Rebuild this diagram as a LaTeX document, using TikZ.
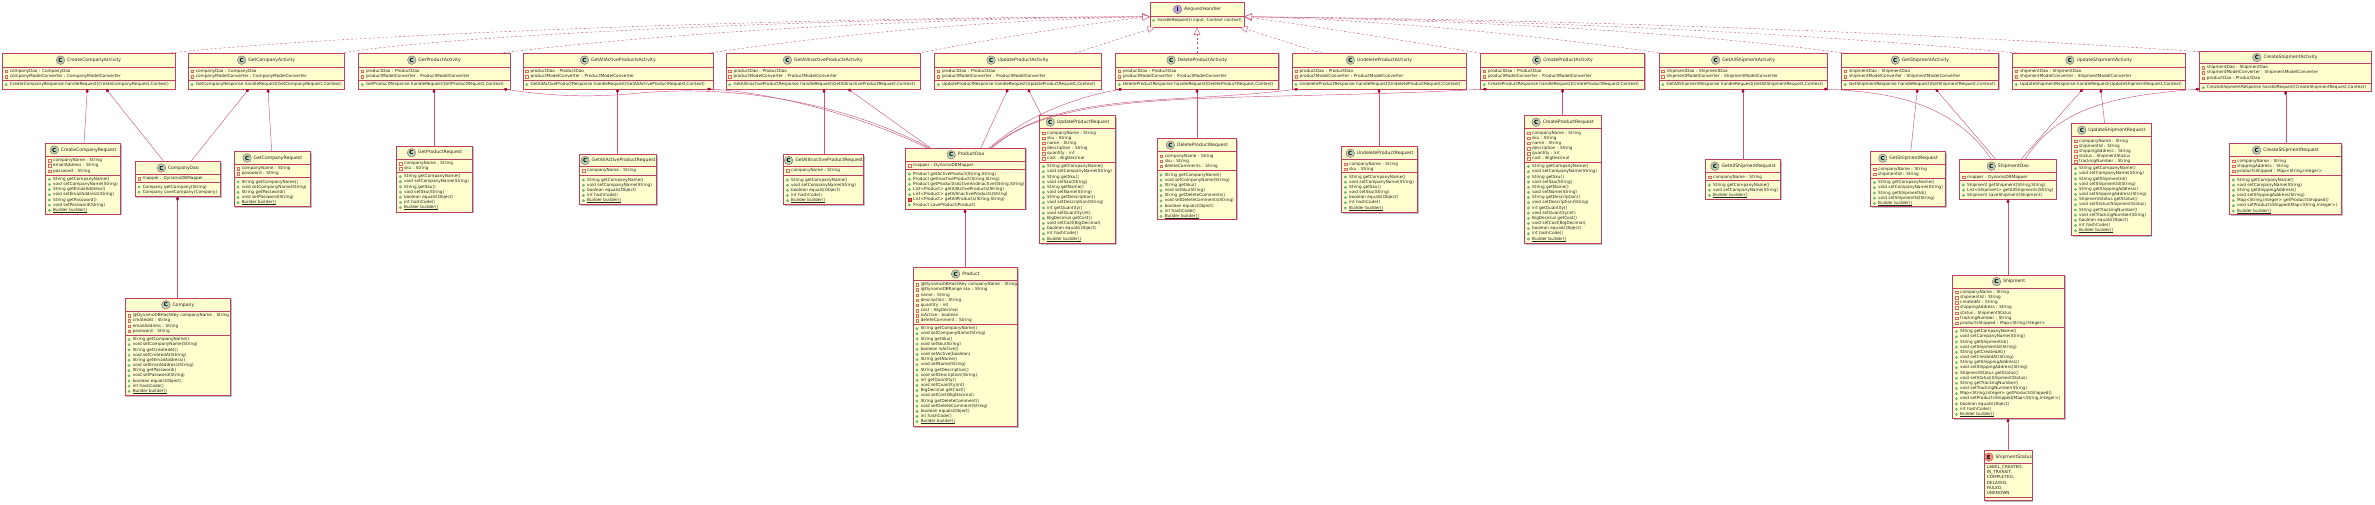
\documentclass[tikz,border=0pt]{standalone}
\usepackage{fontspec}
\setmainfont{DejaVu Sans}
\usetikzlibrary{positioning,shadows,arrows.meta}

\definecolor{umlline}{HTML}{A80036}
\definecolor{umlfill}{HTML}{FEFECE}
\definecolor{classgreen}{HTML}{ADD1B2}
\definecolor{ifacepurple}{HTML}{B4A7E5}
\definecolor{enumred}{HTML}{EB937F}
\definecolor{privline}{HTML}{C82930}
\definecolor{privfill}{HTML}{F24D5C}
\definecolor{publine}{HTML}{038048}
\definecolor{pubfill}{HTML}{84BE84}
\newcommand{\bb}{\leavevmode\setbox0\hbox{Builder builder()}\rlap{\rule[-.6pt]{\wd0}{.2pt}}\box0}

\tikzset{
  classnode/.style={draw=umlline!75!white,fill=umlfill,line width=.55pt,inner sep=0,outer sep=0,drop shadow={shadow xshift=1pt,shadow yshift=-1pt,fill=black,opacity=.25}},
  classrule/.style={draw=umlline!75!white,line width=.4pt},
  classtitle/.style={inner sep=0,text=black!85,font=\fontsize{4.56}{5.4}\selectfont,text height=3.4pt,text depth=1pt},
  classicon/.style={draw=umlline!80!white,line width=.3pt,circle,inner sep=0,minimum size=8.6pt,font=\fontsize{5.6}{6}\selectfont\bfseries},
  iconC/.style={fill=classgreen},
  iconI/.style={fill=ifacepurple},
  iconE/.style={fill=enumred},
  rowtext/.style={anchor=west,inner sep=0,text=black!85,font=\fontsize{4.2}{5.17}\selectfont,text height=3.1pt,text depth=.8pt},
  enumtext/.style={anchor=north west,align=left,inner sep=0,text=black!85,font=\fontsize{4.2}{5.17}\selectfont},
  privattr/.style={draw=privline!70!white,line width=.25pt,inner sep=0,minimum size=2.5pt},
  privmeth/.style={draw=privline,fill=privfill,line width=.25pt,inner sep=0,minimum size=2.5pt},
  pubmeth/.style={circle,draw=publine!70!white,fill=pubfill,line width=.2pt,inner sep=0,minimum size=2.6pt},
  absmeth/.style={circle,draw=publine,line width=.25pt,inner sep=0,minimum size=2.6pt},
  realize/.style={draw=umlline!70!white,line width=.4pt,dash pattern=on 2.2pt off 2.2pt,-{Triangle[open,length=7.5pt,width=6.5pt,fill=white]}},
  compos/.style={draw=umlline!65!white,line width=.45pt,{Diamond[length=4.2pt,width=3pt,color=umlline,fill=umlline]}-},
}

% box with its icon and title: [letter]{name}{x1}{y1}{x2}{y2}{rule 1}{rule 2}{title}
\newcommand{\classbox}[9][C]{
  \pgfmathsetmacro\boxw{#5-#3}
  \pgfmathsetmacro\boxh{#6-#4}
  \pgfmathsetmacro\boxx{(#3+#5)/2}
  \pgfmathsetmacro\boxy{(#4+#6)/2}
  \pgfmathsetmacro\titlex{\boxx+5.4}
  \pgfmathsetmacro\titley{(#4+#7)/2}
  \def\boxleft{#3}
  \node[classnode,minimum width=\boxw pt,minimum height=\boxh pt] (#2) at (\boxx,\boxy) {};
  \node[classtitle] (#2T) at (\titlex,\titley) {#9};
  \node[classicon,icon#1,left=2pt of #2T] (#2C) {#1};
  \draw[classrule] (#2.west |- 0,#7) -- (#2.east |- 0,#7);
  \draw[classrule] (#2.west |- 0,#8) -- (#2.east |- 0,#8);
}
% one section of rows: {prefix}{marker}{y of rule above}{rows}
\newcommand{\rows}[4]{
  \foreach \rowlabel [count=\n] in {#4} {
    \pgfmathsetmacro\rowy{#3+4.3+5.17*(\n-1)}
    \pgfmathsetmacro\rowm{\boxleft+3.7}
    \pgfmathsetmacro\rowt{\boxleft+7.3}
    \node[#2] (#1m\n) at (\rowm,\rowy) {};
    \node[rowtext] (#1t\n) at (\rowt,\rowy) {\rowlabel};
  }
}

\begin{document}
\begin{tikzpicture}[x=1pt,y=-1pt]
\useasboundingbox (0,0) rectangle (2375,505);

% the interface
\classbox[I]{RequestHandler}{1150}{2.7}{1244.4}{27.3}{16}{16}{\itshape RequestHandler}
\rows{RHm}{absmeth}{16}{{handleRequest(I input, Context context)}}

% company classes
\classbox{CreateCompanyActivity}{2.3}{53.3}{175}{89}{67}{80.3}{CreateCompanyActivity}
\rows{CCAa}{privattr}{67}{companyDao : CompanyDao,companyModelConverter : CompanyModelConverter}
\rows{CCAm}{pubmeth}{80.3}{{CreateCompanyResponse handleRequest(CreateCompanyRequest,Context)}}
\classbox{GetCompanyActivity}{188.3}{53.3}{344.4}{89}{67}{80.3}{GetCompanyActivity}
\rows{GCAa}{privattr}{67}{companyDao : CompanyDao,companyModelConverter : CompanyModelConverter}
\rows{GCAm}{pubmeth}{80.3}{{GetCompanyResponse handleRequest(GetCompanyRequest,Context)}}
\classbox{CreateCompanyRequest}{45.7}{143.7}{120.7}{214}{156.3}{175}{CreateCompanyRequest}
\rows{CCRa}{privattr}{156.3}{companyName : String,emailAddress : String,password : String}
\rows{CCRm}{pubmeth}{175}{String getCompanyName(),void setCompanyName(String),String getEmailAddress(),void setEmailAddress(String),String getPassword(),void setPassword(String),\bb}
\classbox{GetCompanyRequest}{234.3}{151.7}{310.7}{206.7}{164.3}{177.7}{GetCompanyRequest}
\rows{GCRa}{privattr}{164.3}{companyName : String,password : String}
\rows{GCRm}{pubmeth}{177.7}{String getCompanyName(),void setCompanyName(String),String getPassword(),void setPassword(String),\bb}
\classbox{CompanyDao}{135.3}{161.7}{220.7}{196.7}{174.3}{182.7}{CompanyDao}
\rows{CDa}{privattr}{174.3}{mapper : DynamoDBMapper}
\rows{CDm}{pubmeth}{182.7}{Company getCompany(String),Company saveCompany(Company)}
\classbox{Company}{125.3}{298.3}{230.7}{395.7}{311.3}{335.3}{Company}
\rows{COa}{privattr}{311.3}{@DynamoDBHashKey companyName : String,createdAt : String,emailAddress : String,password : String}
\rows{COm}{pubmeth}{335.3}{String getCompanyName(),void setCompanyName(String),String getCreatedAt(),void setCreatedAt(String),String getEmailAddress(),void setEmailAddress(String),String getPassword(),void setPassword(String),boolean equals(Object),int hashCode(),\bb}

% product classes
\classbox{GetProductActivity}{358.5}{53.3}{510}{89}{67}{80.3}{GetProductActivity}
\rows{GPAa}{privattr}{67}{productDao : ProductDao,productModelConverter : ProductModelConverter}
\rows{GPAm}{pubmeth}{80.3}{{GetProductResponse handleRequest(GetProductRequest,Context)}}
\classbox{GetAllActiveProductsActivity}{523}{53.3}{713}{89}{67}{80.3}{GetAllActiveProductsActivity}
\rows{GAAa}{privattr}{67}{productDao : ProductDao,productModelConverter : ProductModelConverter}
\rows{GAAm}{pubmeth}{80.3}{{GetAllActiveProductResponse handleRequest(GetAllActiveProductRequest,Context)}}
\classbox{GetAllInactiveProductsActivity}{726}{53.3}{920}{89}{67}{80.3}{GetAllInactiveProductsActivity}
\rows{GAIa}{privattr}{67}{productDao : ProductDao,productModelConverter : ProductModelConverter}
\rows{GAIm}{pubmeth}{80.3}{{GetAllInactiveProductResponse handleRequest(GetAllInactiveProductRequest,Context)}}
\classbox{UpdateProductActivity}{934.5}{53.3}{1101}{89}{67}{80.3}{UpdateProductActivity}
\rows{UPAa}{privattr}{67}{productDao : ProductDao,productModelConverter : ProductModelConverter}
\rows{UPAm}{pubmeth}{80.3}{{UpdateProductResponse handleRequest(UpdateProductRequest,Context)}}
\classbox{DeleteProductActivity}{1115.5}{53.3}{1278.5}{89}{67}{80.3}{DeleteProductActivity}
\rows{DPAa}{privattr}{67}{productDao : ProductDao,productModelConverter : ProductModelConverter}
\rows{DPAm}{pubmeth}{80.3}{{DeleteProductResponse handleRequest(DeleteProductRequest,Context)}}
\classbox{UndeleteProductActivity}{1292.2}{53.3}{1466}{89}{67}{80.3}{UndeleteProductActivity}
\rows{NPAa}{privattr}{67}{productDao : ProductDao,productModelConverter : ProductModelConverter}
\rows{NPAm}{pubmeth}{80.3}{{UndeleteProductResponse handleRequest(UndeleteProductRequest,Context)}}
\classbox{CreateProductActivity}{1480.5}{53.3}{1644.7}{89}{67}{80.3}{CreateProductActivity}
\rows{RPAa}{privattr}{67}{productDao : ProductDao,productModelConverter : ProductModelConverter}
\rows{RPAm}{pubmeth}{80.3}{{CreateProductResponse handleRequest(CreateProductRequest,Context)}}

\classbox{GetProductRequest}{396.7}{146.3}{472.7}{212.5}{159.2}{172.3}{GetProductRequest}
\rows{GPRa}{privattr}{159.2}{companyName : String,sku : String}
\rows{GPRm}{pubmeth}{172.3}{String getCompanyName(),void setCompanyName(String),String getSku(),void setSku(String),boolean equals(Object),int hashCode(),\bb}
\classbox{GetAllActiveProductRequest}{579.7}{154.7}{656.7}{204.7}{166.3}{175.7}{GetAllActiveProductRequest}
\rows{GARa}{privattr}{166.3}{companyName : String}
\rows{GARm}{pubmeth}{175.7}{String getCompanyName(),void setCompanyName(String),boolean equals(Object),int hashCode(),\bb}
\classbox{GetAllInactiveProductRequest}{783.7}{154.7}{863.7}{204.7}{166.3}{175.7}{GetAllInactiveProductRequest}
\rows{GIRa}{privattr}{166.3}{companyName : String}
\rows{GIRm}{pubmeth}{175.7}{String getCompanyName(),void setCompanyName(String),boolean equals(Object),int hashCode(),\bb}
\classbox{ProductDao}{905.7}{148.3}{1025.7}{209.3}{161.3}{169.7}{ProductDao}
\rows{PDa}{privattr}{161.3}{mapper : DynamoDBMapper}
\rows{PDm}{pubmeth}{169.7}{{Product getActiveProduct(String,String)},{Product getInactiveProduct(String,String)},{Product getProductIsActiveAndInactive(String,String)},List<Product> getAllActiveProducts(String),List<Product> getAllInactiveProducts(String)}
\rows{PDp}{privmeth}{195.55}{{List<Product> getAllProducts(String,String)}}
\rows{PDs}{pubmeth}{200.72}{Product saveProduct(Product)}
\classbox{Product}{913.3}{267.7}{1017.7}{426.7}{280.3}{324.3}{Product}
\rows{PRa}{privattr}{280.3}{@DynamoDBHashKey companyName : String,@DynamoDBRange sku : String,name : String,description : String,quantity : int,cost : BigDecimal,isActive : boolean,deleteComment : String}
\rows{PRm}{pubmeth}{324.3}{String getCompanyName(),void setCompanyName(String),String getSku(),void setSku(String),boolean isActive(),void setActive(boolean),String getName(),void setName(String),String getDescription(),void setDescription(String),int getQuantity(),void setQuantity(int),BigDecimal getCost(),void setCost(BigDecimal),String getDeleteComment(),void setDeleteComment(String),boolean equals(Object),int hashCode(),\bb}
\classbox{UpdateProductRequest}{1039.7}{115.7}{1115.7}{243.7}{128.7}{162.3}{UpdateProductRequest}
\rows{UPRa}{privattr}{128.7}{companyName : String,sku : String,name : String,description : String,quantity : int,cost : BigDecimal}
\rows{UPRm}{pubmeth}{162.3}{String getCompanyName(),void setCompanyName(String),String getSku(),void setSku(String),String getName(),void setName(String),String getDescription(),void setDescription(String),int getQuantity(),void setQuantity(int),BigDecimal getCost(),void setCost(BigDecimal),boolean equals(Object),int hashCode(),\bb}
\classbox{DeleteProductRequest}{1157.3}{138.7}{1236.7}{219.3}{151.7}{170.7}{DeleteProductRequest}
\rows{DPRa}{privattr}{151.7}{companyName : String,sku : String,deleteComments : String}
\rows{DPRm}{pubmeth}{170.7}{String getCompanyName(),void setCompanyName(String),String getSku(),void setSku(String),String getDeleteComments(),void setDeleteComments(String),boolean equals(Object),int hashCode(),\bb}
\classbox{UndeleteProductRequest}{1341.7}{146.7}{1417.7}{212.7}{159.7}{172.7}{UndeleteProductRequest}
\rows{NPRa}{privattr}{159.7}{companyName : String,sku : String}
\rows{NPRm}{pubmeth}{172.7}{String getCompanyName(),void setCompanyName(String),String getSku(),void setSku(String),boolean equals(Object),int hashCode(),\bb}
\classbox{CreateProductRequest}{1524.7}{115.7}{1601}{243.7}{128.7}{162.3}{CreateProductRequest}
\rows{RPRa}{privattr}{128.7}{companyName : String,sku : String,name : String,description : String,quantity : int,cost : BigDecimal}
\rows{RPRm}{pubmeth}{162.3}{String getCompanyName(),void setCompanyName(String),String getSku(),void setSku(String),String getName(),void setName(String),String getDescription(),void setDescription(String),int getQuantity(),void setQuantity(int),BigDecimal getCost(),void setCost(BigDecimal),boolean equals(Object),int hashCode(),\bb}

% shipment classes
\classbox{GetAllShipmentActivity}{1659}{53.3}{1827.4}{89}{67}{80.3}{GetAllShipmentActivity}
\rows{ASAa}{privattr}{67}{shipmentDao : ShipmentDao,shipmentModelConverter : ShipmentModelConverter}
\rows{ASAm}{pubmeth}{80.3}{{GetAllShipmentResponse handleRequest(GetAllShipmentRequest,Context)}}
\classbox{GetShipmentActivity}{1841.5}{53.3}{1998.6}{89}{67}{80.3}{GetShipmentActivity}
\rows{GSAa}{privattr}{67}{shipmentDao : ShipmentDao,shipmentModelConverter : ShipmentModelConverter}
\rows{GSAm}{pubmeth}{80.3}{{GetShipmentResponse handleRequest(GetShipmentRequest,Context)}}
\classbox{UpdateShipmentActivity}{2012.6}{53.3}{2185.3}{89}{67}{80.3}{UpdateShipmentActivity}
\rows{USAa}{privattr}{67}{shipmentDao : ShipmentDao,shipmentModelConverter : ShipmentModelConverter}
\rows{USAm}{pubmeth}{80.3}{{UpdateShipmentResponse handleRequest(UpdateShipmentRequest,Context)}}
\classbox{CreateShipmentActivity}{2199.4}{51.7}{2370.9}{91}{63.3}{83.3}{CreateShipmentActivity}
\rows{RSAa}{privattr}{63.3}{shipmentDao : ShipmentDao,shipmentModelConverter : ShipmentModelConverter,productDao : ProductDao}
\rows{RSAm}{pubmeth}{83.3}{{CreateShipmentResponse handleRequest(CreateShipmentRequest,Context)}}

\classbox{GetAllShipmentRequest}{1705.7}{159.7}{1780.7}{199.3}{172.7}{180.7}{GetAllShipmentRequest}
\rows{ASRa}{privattr}{172.7}{companyName : String}
\rows{ASRm}{pubmeth}{180.7}{String getCompanyName(),void setCompanyName(String),\bb}
\classbox{GetShipmentRequest}{1870.7}{151.7}{1945.7}{206.7}{164.7}{178.3}{GetShipmentRequest}
\rows{GSRa}{privattr}{164.7}{companyName : String,shipmentId : String}
\rows{GSRm}{pubmeth}{178.3}{String getCompanyName(),void setCompanyName(String),String getShipmentId(),void setShipmentId(String),\bb}
\classbox{ShipmentDao}{1959.7}{159.7}{2056.3}{199.3}{172.7}{180.7}{ShipmentDao}
\rows{SDa}{privattr}{172.7}{mapper : DynamoDBMapper}
\rows{SDm}{pubmeth}{180.7}{{Shipment getShipment(String,String)},List<Shipment> getAllShipments(String),Shipment saveShipment(Shipment)}
\classbox{UpdateShipmentRequest}{2071.7}{123.7}{2151.3}{235.7}{136.7}{164.3}{UpdateShipmentRequest}
\rows{USRa}{privattr}{136.7}{companyName : String,shipmentId : String,shippingAddress : String,status : ShipmentStatus,trackingNumber : String}
\rows{USRm}{pubmeth}{164.3}{String getCompanyName(),void setCompanyName(String),String getShipmentId(),void setShipmentId(String),String getShippingAddress(),void setShippingAddress(String),ShipmentStatus getStatus(),void setStatus(ShipmentStatus),String getTrackingNumber(),void setTrackingNumber(String),boolean equals(Object),int hashCode(),\bb}
\classbox{CreateShipmentRequest}{2229.7}{143.7}{2341.7}{214.7}{156.7}{175.7}{CreateShipmentRequest}
\rows{RSRa}{privattr}{156.7}{companyName : String,shippingAddress : String,{productsShipped : Map<String,Integer>}}
\rows{RSRm}{pubmeth}{175.7}{String getCompanyName(),void setCompanyName(String),String getShippingAddress(),void setShippingAddress(String),{Map<String,Integer> getProductsShipped()},{void setProductsShipped(Map<String,Integer>)},\bb}
\classbox{Shipment}{1952.7}{275.3}{2064.7}{418.7}{288}{327.3}{Shipment}
\rows{SHa}{privattr}{288}{companyName : String,shipmentId : String,createdAt : String,shippingAddress : String,status : ShipmentStatus,trackingNumber : String,{productsShipped : Map<String,Integer>}}
\rows{SHm}{pubmeth}{327.3}{String getCompanyName(),void setCompanyName(String),String getShipmentId(),void setShipmentId(String),String getCreatedAt(),void setCreatedAt(String),String getShippingAddress(),void setShippingAddress(String),ShipmentStatus getStatus(),void setStatus(ShipmentStatus),String getTrackingNumber(),void setTrackingNumber(String),{Map<String,Integer> getProductsShipped()},{void setProductsShipped(Map<String,Integer>)},boolean equals(Object),int hashCode(),\bb}
\classbox[E]{ShipmentStatus}{1984.3}{450.7}{2032.3}{500.7}{463.3}{497.3}{ShipmentStatus}
\node[enumtext] (SSv) at (1986.7,465.2) {LABEL\_CREATED,\\IN\_TRANSIT,\\COMPLETED,\\DELAYED,\\FAILED,\\UNKNOWN};

% implements
\draw[realize] (CreateCompanyActivity.north -| 166.5,0) .. controls (330,35) and (800,17) .. ([yshift=-1.7pt]RequestHandler.west);
\draw[realize] (GetCompanyActivity.north -| 340,0) .. controls (430,37) and (800,18) .. ([yshift=-1.7pt]RequestHandler.west);
\draw[realize] (GetProductActivity.north -| 499,0) .. controls (600,40) and (850,19) .. ([yshift=-1.7pt]RequestHandler.west);
\draw[realize] (GetAllActiveProductsActivity.north -| 707,0) .. controls (800,40) and (950,21) .. ([yshift=-1.7pt]RequestHandler.west);
\draw[realize] (GetAllInactiveProductsActivity.north -| 917.6,0) .. controls (1000,37) and (1100,22) .. ([yshift=-1.7pt]RequestHandler.west);
\draw[realize] (UpdateProductActivity.north -| 1074.5,0) -- (RequestHandler.south -| 1155,0);
\draw[realize] (DeleteProductActivity.north -| 1197,0) -- (RequestHandler.south -| 1197,0);
\draw[realize] (UndeleteProductActivity.north -| 1322,0) -- (RequestHandler.south -| 1240,0);
\draw[realize] (CreateProductActivity.north -| 1481,0) .. controls (1400,40) and (1300,24) .. ([yshift=-1.7pt]RequestHandler.east);
\draw[realize] (GetAllShipmentActivity.north -| 1663,0) .. controls (1500,30) and (1350,19) .. ([yshift=-1.7pt]RequestHandler.east);
\draw[realize] (GetShipmentActivity.north -| 1846,0) .. controls (1650,27) and (1400,19) .. ([yshift=-1.7pt]RequestHandler.east);
\draw[realize] (UpdateShipmentActivity.north -| 2021,0) .. controls (1750,28) and (1450,19) .. ([yshift=-1.7pt]RequestHandler.east);
\draw[realize] (CreateShipmentActivity.north -| 2199.4,0) .. controls (1850,28) and (1500,19) .. ([yshift=-1.7pt]RequestHandler.east);

% has-a
\draw[compos] (CreateCompanyActivity.south -| 87.3,0) -- (CreateCompanyRequest.north -| 84,0);
\draw[compos] (CreateCompanyActivity.south -| 106,0) -- (CompanyDao.north -| 164,0);
\draw[compos] (GetCompanyActivity.south -| 248.7,0) -- (CompanyDao.north -| 190.7,0);
\draw[compos] (GetCompanyActivity.south -| 268,0) -- (GetCompanyRequest.north -| 271.7,0);
\draw[compos] (CompanyDao.south -| 177.5,0) -- (Company.north -| 177.5,0);
\draw[compos] (GetProductActivity.south -| 434,0) -- (GetProductRequest.north -| 434,0);
\draw[compos] (GetProductActivity.south -| 503.6,0) .. controls (550,96) and (590,98) .. (640,93) .. controls (740,84) and (850,105) .. (ProductDao.north -| 930,0);
\draw[compos] (GetAllActiveProductsActivity.south -| 617.5,0) -- (GetAllActiveProductRequest.north -| 617.5,0);
\draw[compos] (GetAllActiveProductsActivity.south -| 707,0) .. controls (770,92) and (860,115) .. (ProductDao.north -| 928,0);
\draw[compos] (GetAllInactiveProductsActivity.south -| 824,0) -- (GetAllInactiveProductRequest.north -| 824,0);
\draw[compos] (GetAllInactiveProductsActivity.south -| 848,0) -- (ProductDao.north -| 931,0);
\draw[compos] (UpdateProductActivity.south -| 1008,0) -- (ProductDao.north -| 980.7,0);
\draw[compos] (UpdateProductActivity.south -| 1028,0) -- (UpdateProductRequest.north -| 1041.7,0);
\draw[compos] (DeleteProductActivity.south -| 1122,0) .. controls (1060,100) and (1015,125) .. (ProductDao.north -| 989,0);
\draw[compos] (DeleteProductActivity.south -| 1197,0) -- (DeleteProductRequest.north -| 1197,0);
\draw[compos] (UndeleteProductActivity.south -| 1298,0) .. controls (1170,105) and (1060,90) .. (ProductDao.north -| 990,0);
\draw[compos] (UndeleteProductActivity.south -| 1379,0) -- (UndeleteProductRequest.north -| 1379,0);
\draw[compos] (CreateProductActivity.south -| 1487,0) .. controls (1230,103) and (1060,85) .. (ProductDao.north -| 992,0);
\draw[compos] (CreateProductActivity.south -| 1562.5,0) -- (CreateProductRequest.north -| 1562.5,0);
\draw[compos] (ProductDao.south -| 965,0) -- (Product.north -| 965,0);
\draw[compos] (GetAllShipmentActivity.south -| 1743,0) -- (GetAllShipmentRequest.north -| 1743,0);
\draw[compos] (GetAllShipmentActivity.south -| 1823.6,0) .. controls (1880,92) and (1950,98) .. (ShipmentDao.north -| 1991.7,0);
\draw[compos] (GetShipmentActivity.south -| 1917.4,0) -- (GetShipmentRequest.north -| 1910.7,0);
\draw[compos] (GetShipmentActivity.south -| 1935.6,0) -- (ShipmentDao.north -| 1996,0);
\draw[compos] (UpdateShipmentActivity.south -| 2082.8,0) -- (ShipmentDao.north -| 2020.7,0);
\draw[compos] (UpdateShipmentActivity.south -| 2100.7,0) -- (UpdateShipmentRequest.north -| 2104.7,0);
\draw[compos] (CreateShipmentActivity.west |- 0,89) .. controls (2130,95) and (2060,102) .. (ShipmentDao.north -| 2025,0);
\draw[compos] (CreateShipmentActivity.south -| 2285.7,0) -- (CreateShipmentRequest.north -| 2285.7,0);
\draw[compos] (ShipmentDao.south -| 2008,0) -- (Shipment.north -| 2008,0);
\draw[compos] (Shipment.south -| 2008,0) -- (ShipmentStatus.north -| 2008,0);
\end{tikzpicture}
\end{document}
